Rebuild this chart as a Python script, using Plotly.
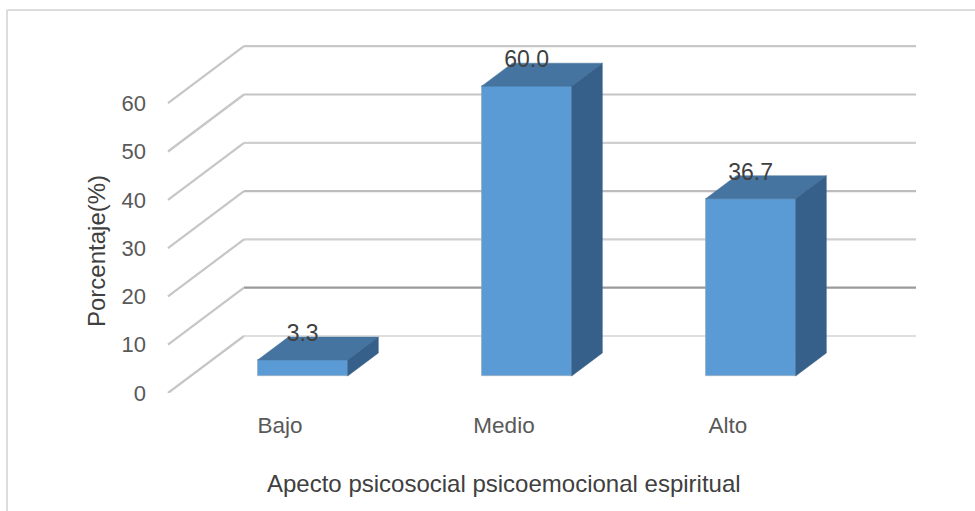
import plotly.graph_objects as go

# Chart data
categories = ["Bajo", "Medio", "Alto"]
percentages = [3.3, 60.0, 36.7]
value_labels = ["3.3", "60.0", "36.7"]
y_ticks = [0, 10, 20, 30, 40, 50, 60]
wall_line_colors = ["#dedede", "#9a9a9a", "#cfcfcf", "#bdbdbd", "#cfcfcf", "#c4c4c4", "#c8c8c8"]
x_title = "Apecto psicosocial psicoemocional espiritual"
y_title = "Porcentaje(%)"

# Plot area in pixels
PLOT_LEFT, PLOT_WIDTH = 160.0, 800.0
PLOT_TOP, PLOT_BOTTOM = 30.0, 393.0
PLOT_HEIGHT = PLOT_BOTTOM - PLOT_TOP

# Oblique projection: depth 0 is the front of the floor, depth 1 the back wall
PX_PER_CAT = 224.0
PX_PER_UNIT = 4.83
DEPTH_DX = 76.0 / PX_PER_CAT
DEPTH_DY = 57.0 / PX_PER_UNIT
BAR_FRONT = 17.0 / 57.0
BAR_BACK = 40.0 / 57.0
BAR_WIDTH = 90.0 / PX_PER_CAT


def project(x, v, depth):
    return x + DEPTH_DX * depth, v + DEPTH_DY * depth


def polygon(corners):
    pts = [project(*c) for c in corners]
    pts.append(pts[0])
    return [p[0] for p in pts], [p[1] for p in pts]


def paper_x(px):
    return (px - PLOT_LEFT) / PLOT_WIDTH


def paper_y(px):
    return (PLOT_BOTTOM - px) / PLOT_HEIGHT


fig = go.Figure()

# Floor edges and back wall lines
x_lo, x_hi = -0.5, 2.5
shapes = []
for tick, color in zip(y_ticks, wall_line_colors):
    x0, y0 = project(x_lo, tick, 0)
    x1, y1 = project(x_lo, tick, 1)
    x2, y2 = project(x_hi, tick, 1)
    shapes.append(dict(type="line", xref="x", yref="y", x0=x0, y0=y0, x1=x1, y1=y1,
                       layer="below", line=dict(color="#c6c6c6", width=2.2)))
    shapes.append(dict(type="line", xref="x", yref="y", x0=x1, y0=y1, x1=x2, y1=y2,
                       layer="below", line=dict(color=color, width=2.2)))

# Chart frame
frame_segments = [(paper_x(7), paper_y(511), paper_x(7), paper_y(10)),
                  (paper_x(7), paper_y(10), 1.02, paper_y(10))]
for a in frame_segments:
    shapes.append(dict(type="line", xref="paper", yref="paper", x0=a[0], y0=a[1], x1=a[2], y1=a[3],
                       layer="below", line=dict(color="#dcdcdc", width=2)))

# Front faces
fx = [project(i, 0, BAR_FRONT)[0] for i in range(len(categories))]
base = project(0, 0, BAR_FRONT)[1]
fig.add_trace(go.Bar(x=fx, y=percentages, base=[base] * len(categories), width=BAR_WIDTH,
                     marker=dict(color="#5b9bd5", line=dict(color="#8aa4bd", width=0.75)),
                     showlegend=False, hoverinfo="skip"))

# Top and side faces
half = BAR_WIDTH / 2
for i, v in enumerate(percentages):
    tx, ty = polygon([(i - half, v, BAR_FRONT), (i + half, v, BAR_FRONT),
                      (i + half, v, BAR_BACK), (i - half, v, BAR_BACK)])
    fig.add_trace(go.Scatter(x=tx, y=ty, mode="lines", fill="toself", fillcolor="#44749f",
                             line=dict(color="#44749f", width=0.5), showlegend=False, hoverinfo="skip"))
    sx, sy = polygon([(i + half, 0, BAR_FRONT), (i + half, v, BAR_FRONT),
                      (i + half, v, BAR_BACK), (i + half, 0, BAR_BACK)])
    fig.add_trace(go.Scatter(x=sx, y=sy, mode="lines", fill="toself", fillcolor="#366089",
                             line=dict(color="#366089", width=0.5), showlegend=False, hoverinfo="skip"))

# Value labels sit on the rear edge of each bar top
label_x = [project(i, 0, BAR_FRONT)[0] for i in range(len(categories))]
label_y = [project(0, v, BAR_BACK)[1] + 0.4 for v in percentages]
fig.add_trace(go.Scatter(x=label_x, y=label_y, mode="text", text=value_labels,
                         textposition="middle center",
                         textfont=dict(family="Liberation Sans", size=23, color="#404040"),
                         showlegend=False, hoverinfo="skip"))

fig.update_layout(
    width=975, height=511,
    margin=dict(l=PLOT_LEFT, r=975 - PLOT_LEFT - PLOT_WIDTH, t=PLOT_TOP, b=511 - PLOT_BOTTOM,
                autoexpand=False),
    paper_bgcolor="white", plot_bgcolor="white",
    shapes=shapes,
    bargap=0,
    xaxis=dict(range=[-120 / PX_PER_CAT, 680 / PX_PER_CAT], tickmode="array",
               tickvals=list(range(len(categories))), ticktext=categories,
               tickfont=dict(family="Liberation Sans", size=22.5, color="#595959"),
               showgrid=False, zeroline=False, showline=False, ticks="",
               ticklabelstandoff=16),
    yaxis=dict(range=[0, PLOT_HEIGHT / PX_PER_UNIT], tickmode="array", tickvals=y_ticks,
               tickfont=dict(family="Liberation Sans", size=22, color="#595959"),
               showgrid=False, zeroline=False, showline=False, ticks="",
               ticklabelstandoff=13),
    annotations=[
        dict(text=x_title, xref="x", x=1, yref="paper", y=paper_y(483), xanchor="center",
             yanchor="middle", showarrow=False,
             font=dict(family="Liberation Sans", size=24, color="#404040")),
        dict(text=y_title, xref="paper", x=paper_x(96), yref="paper", y=paper_y(251),
             textangle=-90, xanchor="center", yanchor="middle", showarrow=False,
             font=dict(family="Liberation Sans", size=24, color="#404040")),
    ],
)

fig.write_html("out.html")
